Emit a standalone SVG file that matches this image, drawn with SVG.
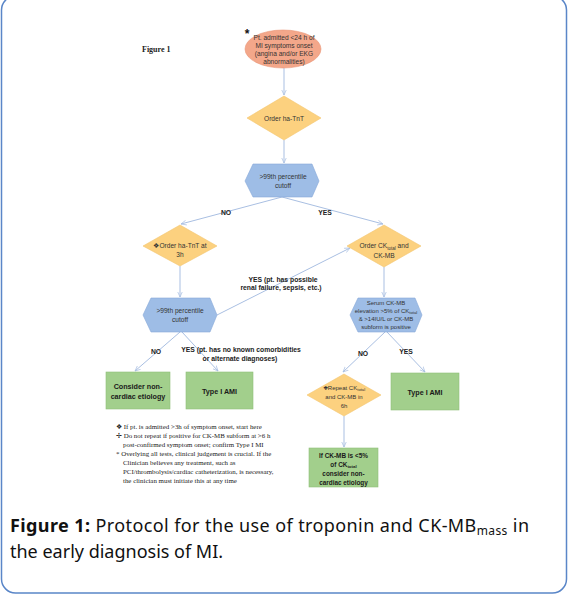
<svg xmlns="http://www.w3.org/2000/svg" width="568" height="596" viewBox="0 0 568 596">
<defs>
<marker id="ah" viewBox="0 0 10 10" refX="9" refY="5" markerWidth="6" markerHeight="6" orient="auto" markerUnits="userSpaceOnUse">
<path d="M0,1 L9,5 L0,9" fill="none" stroke="#a9bfe2" stroke-width="1.2"/>
</marker>
<style>
.c{stroke:#a9bfe2;stroke-width:1;fill:none;marker-end:url(#ah)}
.t{font-family:"Liberation Sans",Arial,sans-serif;font-size:6.6px;fill:#333;text-anchor:middle}
.ts{font-family:"Liberation Sans",Arial,sans-serif;font-size:6px;fill:#333;text-anchor:middle}
.lb{font-family:"Liberation Sans",Arial,sans-serif;font-size:6.8px;font-weight:bold;fill:#222;text-anchor:middle}
.gb{font-family:"Liberation Sans",Arial,sans-serif;font-size:7.2px;font-weight:bold;fill:#1a1a1a;text-anchor:middle}
.gs{font-family:"Liberation Sans",Arial,sans-serif;font-size:6.4px;font-weight:bold;fill:#1a1a1a;text-anchor:middle}
.fn{font-family:"Liberation Serif","Times New Roman",serif;font-size:6.9px;fill:#222}
.dia{fill:#fcd17f;stroke:#f3c670;stroke-width:0.6}
.hex{fill:#9ebde6;stroke:#86a8d8;stroke-width:0.6}
.grn{fill:#a2cf8c;stroke:#8fbf78;stroke-width:0.6}
.cap{font-family:"Noto Sans","Open Sans",sans-serif;font-size:18px;fill:#111}
</style>
</defs>
<rect x="1.5" y="-4" width="565" height="597" rx="14" fill="#fff" stroke="#5a86c8" stroke-width="1.5"/>

<text x="142" y="52" font-family="Liberation Serif,serif" font-size="8" font-weight="bold" fill="#222">Figure 1</text>

<g id="connectors">
<line class="c" x1="284" y1="68" x2="284" y2="95"/>
<line class="c" x1="284" y1="140" x2="284" y2="163"/>
<line class="c" x1="282" y1="197" x2="181" y2="224"/>
<line class="c" x1="282" y1="197" x2="383" y2="224"/>
<line class="c" x1="180" y1="266" x2="180" y2="297"/>
<line class="c" x1="217" y1="315" x2="350" y2="248"/>
<line class="c" x1="384" y1="267" x2="384" y2="297"/>
<line class="c" x1="180" y1="332" x2="135" y2="371"/>
<line class="c" x1="182" y1="332" x2="218" y2="371"/>
<line class="c" x1="385" y1="332" x2="343" y2="372"/>
<line class="c" x1="387" y1="332" x2="425" y2="372"/>
<line class="c" x1="344" y1="416" x2="344" y2="447"/>
</g>

<g id="labels">
<text class="lb" x="226" y="215">NO</text>
<text class="lb" x="325" y="215">YES</text>
<text class="lb" x="283" y="282">YES (pt. has possible</text>
<text class="lb" x="281" y="290">renal failure, sepsis, etc.)</text>
<text class="lb" x="156" y="354">NO</text>
<text class="lb" x="241" y="352">YES (pt. has no known comorbidities</text>
<text class="lb" x="240" y="361">or alternate diagnoses)</text>
<text class="lb" x="363" y="356">NO</text>
<text class="lb" x="406" y="354">YES</text>
</g>

<g id="start">
<ellipse cx="283" cy="49" rx="38" ry="19" fill="#f3a78a" stroke="#e99677" stroke-width="0.6"/>
<text x="247" y="38" font-family="Liberation Sans,sans-serif" font-size="12" font-weight="bold" fill="#111" text-anchor="middle">*</text>
<text class="t" x="284" y="40">Pt. admitted &lt;24 h of</text>
<text class="t" x="284" y="48">MI symptoms onset</text>
<text class="t" x="284" y="56">(angina and/or EKG</text>
<text class="t" x="284" y="64">abnormalities)</text>
</g>

<g id="order-tnt">
<polygon class="dia" points="284,96 321,118 284,140 247,118"/>
<text class="t" x="284" y="120.5">Order ha-TnT</text>
</g>

<g id="hex1">
<polygon class="hex" points="245,181 253,164 312,164 319,181 312,197 253,197"/>
<text class="t" x="283" y="179">&gt;99th percentile</text>
<text class="t" x="283" y="188">cutoff</text>
</g>

<g id="order-tnt-3h">
<polygon class="dia" points="180,225 217,246 180,266 143,246"/>
<text class="t" x="180" y="248">❖Order ha-TnT at</text>
<text class="t" x="180" y="257">3h</text>
</g>

<g id="order-ck">
<polygon class="dia" points="384,225 421,246 384,267 347,246"/>
<text class="t" x="384" y="248">Order CK<tspan font-size="4.5" dy="1.5">total</tspan><tspan dy="-1.5"> and</tspan></text>
<text class="t" x="384" y="258">CK-MB</text>
</g>

<g id="hex2">
<polygon class="hex" points="143,315 151,298 210,298 217,315 210,332 151,332"/>
<text class="t" x="180" y="313">&gt;99th percentile</text>
<text class="t" x="180" y="322">cutoff</text>
</g>

<g id="hex3">
<polygon class="hex" points="350,315 358,298 415,298 422,315 415,332 358,332"/>
<text class="ts" x="386" y="305">Serum CK-MB</text>
<text class="ts" x="386" y="313">elevation &gt;5% of CK<tspan font-size="4.2" dy="1.3">total</tspan></text>
<text class="ts" x="386" y="321">&amp; &gt;14IU/L or CK-MB</text>
<text class="ts" x="386" y="329">subform is positive</text>
</g>

<g id="consider-left">
<rect class="grn" x="106" y="372" width="64" height="37"/>
<text class="gb" x="138" y="389">Consider non-</text>
<text class="gb" x="138" y="399">cardiac etiology</text>
</g>

<g id="type1-left">
<rect class="grn" x="186" y="372" width="67" height="37"/>
<text class="gb" x="219.5" y="394">Type I AMI</text>
</g>

<g id="type1-right">
<rect class="grn" x="391" y="373" width="68" height="37"/>
<text class="gb" x="425" y="395">Type I AMI</text>
</g>

<g id="repeat-ck">
<polygon class="dia" points="344,374 381,395 344,416 307,395"/>
<text class="ts" x="344" y="390">❖Repeat CK<tspan font-size="4.2" dy="1.3">total</tspan></text>
<text class="ts" x="344" y="399">and CK-MB in</text>
<text class="ts" x="344" y="408">6h</text>
</g>

<g id="if-ckmb">
<rect class="grn" x="309" y="448" width="69" height="39"/>
<text class="gs" x="343.5" y="458">If CK-MB is &lt;5%</text>
<text class="gs" x="343.5" y="467">of CK<tspan font-size="4.4" dy="1.3">total</tspan></text>
<text class="gs" x="343.5" y="476">consider non-</text>
<text class="gs" x="343.5" y="485">cardiac etiology</text>
</g>

<g id="footnotes">
<text class="fn" x="116" y="429">❖  If pt. is admitted &gt;3h of symptom onset, start here</text>
<text class="fn" x="116" y="438">✢  Do not repeat if positive for CK-MB subform at &gt;6 h</text>
<text class="fn" x="123" y="447">post-confirmed symptom onset; confirm Type I MI</text>
<text class="fn" x="116" y="456">*  Overlying all tests, clinical judgement is crucial. If the</text>
<text class="fn" x="123" y="465">Clinician believes any treatment, such as</text>
<text class="fn" x="123" y="474">PCI/thrombolysis/cardiac catheterization, is necessary,</text>
<text class="fn" x="123" y="483">the clinician must initiate this at any time</text>
</g>

<g id="caption">
<text class="cap" x="10" y="532" textLength="519" lengthAdjust="spacing"><tspan font-weight="bold">Figure 1:</tspan> Protocol for the use of troponin and CK-MB<tspan font-size="12" dy="3">mass</tspan><tspan dy="-3"> in</tspan></text>
<text class="cap" x="10" y="558">the early diagnosis of MI.</text>
</g>
</svg>
